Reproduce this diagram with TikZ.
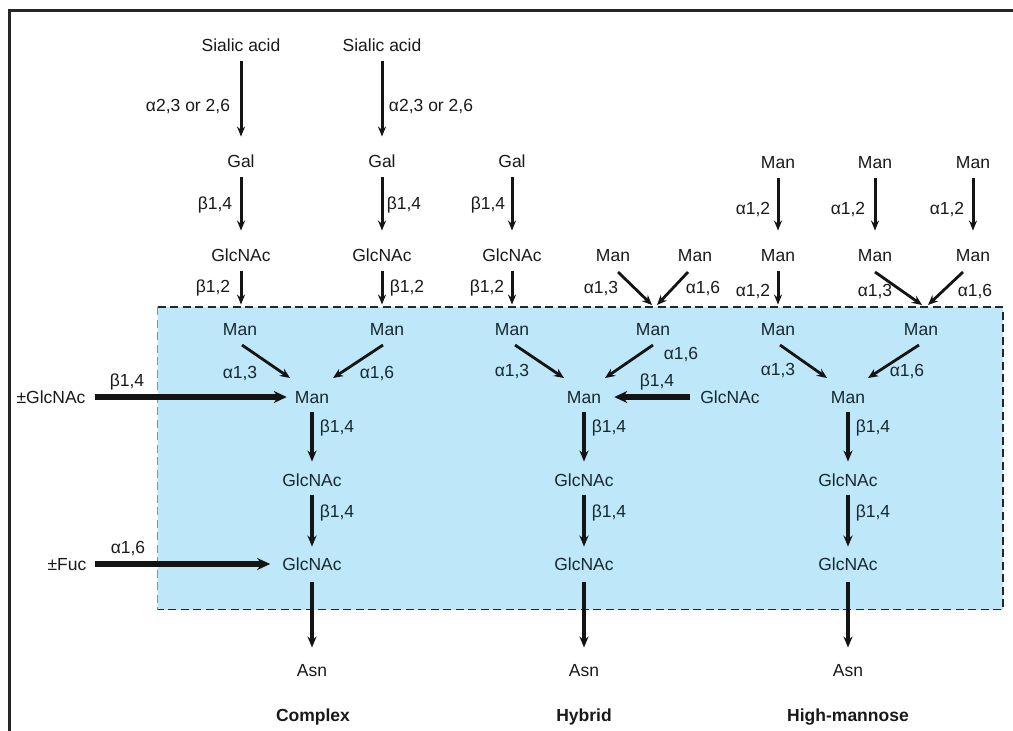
\documentclass[tikz,border=0pt]{standalone}
\usepackage{fontspec}
\setmainfont{Liberation Sans}
\usetikzlibrary{arrows.meta,calc}
\definecolor{boxblue}{RGB}{190,232,249}
\definecolor{txt}{RGB}{25,25,25}
\definecolor{intxt}{RGB}{22,40,50}
\definecolor{edgegray}{RGB}{140,145,150}
\begin{document}
\begin{tikzpicture}[x=1pt,y=-1pt,
  lbl/.style={inner sep=0pt,text height=12.5pt,text depth=0pt,font=\fontsize{17.5}{20}\selectfont,text=txt},
  sug/.style={lbl},
  insug/.style={lbl,text=intxt},
  bond/.style={lbl},
  inbond/.style={lbl,text=intxt},
  ttl/.style={lbl,font=\fontsize{17.5}{20}\selectfont\bfseries},
  varr/.style={line width=3pt,draw=black!92,-{Stealth[length=10pt,width=8pt]},shorten <=10pt,shorten >=18pt},
  darr/.style={line width=2.8pt,draw=black!92,-{Stealth[length=10pt,width=8.5pt]}},
  tarr/.style={line width=4pt,draw=black!92,-{Stealth[length=11pt,width=9pt]}},
  harr/.style={line width=5.5pt,draw=black!92,-{Stealth[length=13pt,width=12pt]}},
  dashline/.style={line width=1.6pt,dash pattern=on 8pt off 4.5pt}
]
\useasboundingbox (0,0) rectangle (1013,731);
% frame
\draw[line width=2.2pt,draw=black!85] (1013,10.5) -- (9.5,10.5) -- (9.5,731);
% blue core box
\fill[boxblue] (157.5,307) rectangle (1003,609.5);
\draw[dashline,draw=black!85] (157.5,307) -- (1003,307) -- (1003,609.5) -- (157.5,609.5);
\draw[dashline,draw=edgegray] (157.5,307) -- (157.5,609.5);

% ---------- Complex ----------
\node[sug] (cs1) at (241,45) {Sialic acid};
\node[sug] (cs2) at (382,45) {Sialic acid};
\node[sug] (cgal1) at (241,161) {Gal};
\node[sug] (cgal2) at (382,161) {Gal};
\node[sug] (cgn1) at (241,255) {GlcNAc};
\node[sug] (cgn2) at (382,255) {GlcNAc};
\node[insug] (cm1) at (240,329) {Man};
\node[insug] (cm2) at (387,329) {Man};
\node[insug] (cmc) at (312,397) {Man};
\node[insug] (cgA) at (312,480) {GlcNAc};
\node[insug] (cgB) at (312,564) {GlcNAc};
\node[sug] (casn) at (312,670) {Asn};
\node[ttl] (ctitle) at (313,715) {Complex};
\node[sug] (pmg) at (51,397) {±GlcNAc};
\node[sug] (pf) at (67,564) {±Fuc};

% ---------- Hybrid ----------
\node[sug] (hgal) at (512,161) {Gal};
\node[sug] (hgn) at (512,255) {GlcNAc};
\node[insug] (hm1) at (512,329) {Man};
\node[sug] (ht1) at (613,255) {Man};
\node[sug] (ht2) at (695,255) {Man};
\node[insug] (hm2) at (653,329) {Man};
\node[insug] (hmc) at (584,397) {Man};
\node[insug] (hgx) at (730,397) {GlcNAc};
\node[insug] (hgA) at (584,480) {GlcNAc};
\node[insug] (hgB) at (584,564) {GlcNAc};
\node[sug] (hasn) at (584,670) {Asn};
\node[ttl] (htitle) at (584,715) {Hybrid};

% ---------- High-mannose ----------
\node[sug] (ma1) at (778,162) {Man};
\node[sug] (ma2) at (875,162) {Man};
\node[sug] (ma3) at (973,162) {Man};
\node[sug] (mb1) at (778,255) {Man};
\node[sug] (mb2) at (875,255) {Man};
\node[sug] (mb3) at (973,255) {Man};
\node[insug] (mm1) at (778,329) {Man};
\node[insug] (mm2) at (921,329) {Man};
\node[insug] (mmc) at (848,397) {Man};
\node[insug] (mgA) at (848,480) {GlcNAc};
\node[insug] (mgB) at (848,564) {GlcNAc};
\node[sug] (masn) at (848,670) {Asn};
\node[ttl] (mtitle) at (848,715) {High-mannose};

% ---------- vertical connectors ----------
\draw[varr] (cs1) -- (cgal1);
\draw[varr] (cs2) -- (cgal2);
\draw[varr] (cgal1) -- (cgn1);
\draw[varr] (cgal2) -- (cgn2);
\draw[varr] (cgn1.south) -- (cgn1.south |- cm1.north);
\draw[varr] (cgn2.south) -- (cgn2.south |- cm2.north);
\draw[varr] (hgal) -- (hgn);
\draw[varr] (hgn) -- (hm1);
\draw[varr] (ma1) -- (mb1);
\draw[varr] (ma2) -- (mb2);
\draw[varr] (ma3) -- (mb3);
\draw[varr] (mb1) -- (mm1);

% ---------- diagonal connectors ----------
\draw[darr] ($(ht1)+(5,17)$) -- ($(hm2)+(-1,-24)$);
\draw[darr] ($(ht2)+(-7,17)$) -- ($(hm2)+(4,-24)$);
\draw[darr] ($(mb2)+(0,17)$) -- ($(mm2)+(1,-24)$);
\draw[darr] ($(mb3)+(-10,17)$) -- ($(mm2)+(7,-24)$);
\draw[darr] ($(cm1)+(2,16)$) -- ($(cmc)+(-22,-19)$);
\draw[darr] ($(cm2)+(-4,16)$) -- ($(cmc)+(21,-19)$);
\draw[darr] ($(hm1)+(3,16)$) -- ($(hmc)+(-20,-19)$);
\draw[darr] ($(hm2)+(0,16)$) -- ($(hmc)+(21,-19)$);
\draw[darr] ($(mm1)+(2,16)$) -- ($(mmc)+(-21,-19)$);
\draw[darr] ($(mm2)+(-2,16)$) -- ($(mmc)+(20,-19)$);

% ---------- trunk connectors ----------
\draw[tarr,shorten <=9pt,shorten >=12pt] (cmc) -- (cgA);
\draw[tarr,shorten <=9pt,shorten >=11pt] (cgA) -- (cgB);
\draw[tarr,shorten <=12pt,shorten >=16pt] (cgB) -- (casn);
\draw[tarr,shorten <=9pt,shorten >=12pt] (hmc) -- (hgA);
\draw[tarr,shorten <=9pt,shorten >=11pt] (hgA) -- (hgB);
\draw[tarr,shorten <=12pt,shorten >=16pt] (hgB) -- (hasn);
\draw[tarr,shorten <=9pt,shorten >=12pt] (mmc) -- (mgA);
\draw[tarr,shorten <=9pt,shorten >=11pt] (mgA) -- (mgB);
\draw[tarr,shorten <=12pt,shorten >=16pt] (mgB) -- (masn);

% ---------- horizontal connectors ----------
\draw[harr,shorten <=9pt,shorten >=8pt] (pmg.east) -- (cmc.west);
\draw[harr,shorten <=8pt,shorten >=12pt] (pf.east) -- (cgB.west);
\draw[harr,shorten <=10pt,shorten >=13pt] (hgx.west) -- (hmc.east);

% ---------- linkage labels ----------
\node[bond] (l1) at (188,105) {α2,3 or 2,6};
\node[bond] (l2) at (431,105) {α2,3 or 2,6};
\node[bond] (l3) at (215,203) {β1,4};
\node[bond] (l4) at (404,203) {β1,4};
\node[bond] (l5) at (213,286) {β1,2};
\node[bond] (l6) at (407,286) {β1,2};
\node[inbond] (l7) at (240,372) {α1,3};
\node[inbond] (l8) at (377,372) {α1,6};
\node[bond] (l9) at (127,380) {β1,4};
\node[inbond] (l10) at (337,426) {β1,4};
\node[inbond] (l11) at (337,511) {β1,4};
\node[bond] (l12) at (128,547) {α1,6};

\node[bond] (h1) at (488,203) {β1,4};
\node[bond] (h2) at (487,286) {β1,2};
\node[bond] (h3) at (601,287) {α1,3};
\node[bond] (h4) at (703,287) {α1,6};
\node[inbond] (h5) at (512,370) {α1,3};
\node[inbond] (h6) at (681,353) {α1,6};
\node[inbond] (h7) at (657,380) {β1,4};
\node[inbond] (h8) at (609,426) {β1,4};
\node[inbond] (h9) at (609,511) {β1,4};

\node[bond] (k1) at (753,208) {α1,2};
\node[bond] (k2) at (848,208) {α1,2};
\node[bond] (k3) at (947,208) {α1,2};
\node[bond] (k4) at (753,290) {α1,2};
\node[bond] (k5) at (875,290) {α1,3};
\node[bond] (k6) at (975,290) {α1,6};
\node[inbond] (k7) at (778,369) {α1,3};
\node[inbond] (k8) at (907,370) {α1,6};
\node[inbond] (k9) at (873,426) {β1,4};
\node[inbond] (k10) at (873,511) {β1,4};
\end{tikzpicture}
\end{document}
